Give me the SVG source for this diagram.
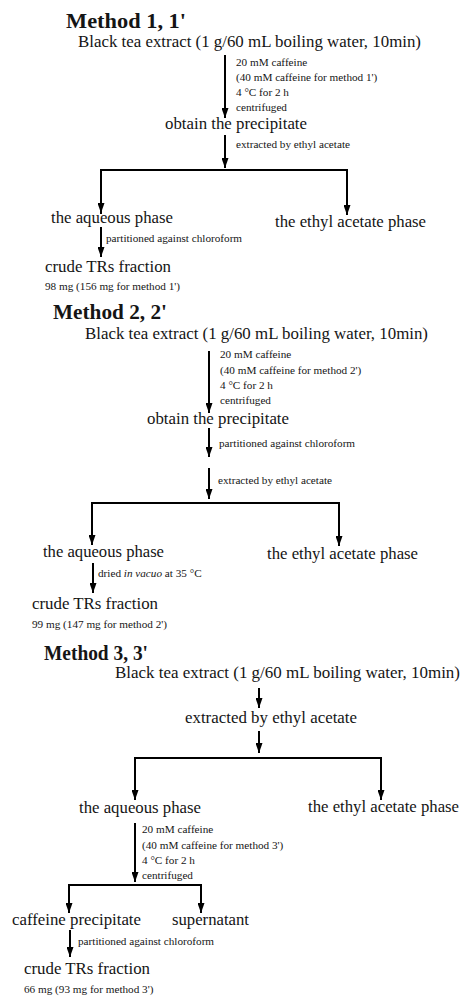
<svg xmlns="http://www.w3.org/2000/svg" width="461" height="996" viewBox="0 0 461 996">
<style>
text{font-family:"Liberation Serif","Times New Roman",serif;fill:#151515}
.t{font-size:21px;font-weight:bold}
.n{font-size:16.8px}
.s{font-size:11.2px}
.c{stroke:#000;stroke-width:2;fill:none}
.a{stroke:#000;stroke-width:2;fill:none;marker-end:url(#ah)}
</style>
<defs>
<marker id="ah" viewBox="0 0 10 7" refX="10" refY="3.5" markerWidth="10" markerHeight="7" markerUnits="userSpaceOnUse" orient="auto">
<path d="M0,0 L10,3.5 L0,7 z" fill="#000"/>
</marker>
</defs>
<rect width="461" height="996" fill="#fff"/>

<g id="connectors">
<!-- method 1 -->
<line class="a" x1="225" y1="55" x2="225" y2="118"/>
<line class="a" x1="225" y1="135" x2="225" y2="168"/>
<path class="c" d="M101,214 V170 H347 V215"/>
<line class="a" x1="101" y1="190" x2="101" y2="213"/>
<line class="a" x1="347" y1="190" x2="347" y2="215"/>
<line class="a" x1="101" y1="227" x2="101" y2="257"/>
<!-- method 2 -->
<line class="a" x1="209" y1="351" x2="209" y2="413"/>
<line class="a" x1="209" y1="428" x2="209" y2="457"/>
<line class="a" x1="209" y1="468" x2="209" y2="499"/>
<path class="c" d="M92,545 V503 H339 V546"/>
<line class="a" x1="92" y1="520" x2="92" y2="545"/>
<line class="a" x1="339" y1="520" x2="339" y2="546"/>
<line class="a" x1="93" y1="563" x2="93" y2="593"/>
<!-- method 3 -->
<line class="a" x1="259" y1="688" x2="259" y2="708"/>
<line class="a" x1="259" y1="731" x2="259" y2="753"/>
<path class="c" d="M135,800 V758 H381 V800"/>
<line class="a" x1="135" y1="775" x2="135" y2="800"/>
<line class="a" x1="381" y1="775" x2="381" y2="800"/>
<line class="a" x1="135" y1="823" x2="135" y2="882"/>
<path class="c" d="M69,913 V885 H201 V913"/>
<line class="a" x1="69" y1="895" x2="69" y2="913"/>
<line class="a" x1="201" y1="895" x2="201" y2="913"/>
<line class="a" x1="70" y1="930" x2="70" y2="957"/>
</g>

<!-- labels on connectors -->
<g id="labels">
<text class="s" x="236" y="66">20 mM caffeine</text>
<text class="s" x="236" y="81">(40 mM caffeine for method 1')</text>
<text class="s" x="236" y="96">4 °C for 2 h</text>
<text class="s" x="236" y="111">centrifuged</text>
<text class="s" x="236" y="148">extracted by ethyl acetate</text>
<text class="s" x="106" y="242">partitioned against chloroform</text>

<text class="s" x="220" y="358">20 mM caffeine</text>
<text class="s" x="220" y="374">(40 mM caffeine for method 2')</text>
<text class="s" x="220" y="389">4 °C for 2 h</text>
<text class="s" x="220" y="404">centrifuged</text>
<text class="s" x="219" y="447">partitioned against chloroform</text>
<text class="s" x="218" y="484">extracted by ethyl acetate</text>
<text class="s" x="98" y="577">dried <tspan font-style="italic">in vacuo</tspan> at 35 °C</text>

<text class="s" x="142" y="833">20 mM caffeine</text>
<text class="s" x="142" y="849">(40 mM caffeine for method 3')</text>
<text class="s" x="142" y="864">4 °C for 2 h</text>
<text class="s" x="142" y="879">centrifuged</text>
<text class="s" x="78" y="945">partitioned against chloroform</text>
</g>

<!-- Method 1 -->
<g id="m1-title"><text class="t" x="66" y="28" textLength="120" lengthAdjust="spacingAndGlyphs">Method 1, 1'</text></g>
<g id="m1-extract"><text class="n" x="78" y="47" textLength="343" lengthAdjust="spacingAndGlyphs">Black tea extract (1 g/60 mL boiling water, 10min)</text></g>
<g id="m1-precipitate"><text class="n" x="165" y="129" textLength="142" lengthAdjust="spacingAndGlyphs">obtain the precipitate</text></g>
<g id="m1-aqueous"><text class="n" x="51" y="223" textLength="122" lengthAdjust="spacingAndGlyphs">the aqueous phase</text></g>
<g id="m1-ethyl"><text class="n" x="275" y="227" textLength="151" lengthAdjust="spacingAndGlyphs">the ethyl acetate phase</text></g>
<g id="m1-crude"><text class="n" x="45" y="272" textLength="126" lengthAdjust="spacingAndGlyphs">crude TRs fraction</text>
<text class="s" x="45" y="290">98 mg (156 mg for method 1')</text></g>

<!-- Method 2 -->
<g id="m2-title"><text class="t" x="53" y="319" textLength="114" lengthAdjust="spacingAndGlyphs">Method 2, 2'</text></g>
<g id="m2-extract"><text class="n" x="85" y="339" textLength="343" lengthAdjust="spacingAndGlyphs">Black tea extract (1 g/60 mL boiling water, 10min)</text></g>
<g id="m2-precipitate"><text class="n" x="147" y="424" textLength="142" lengthAdjust="spacingAndGlyphs">obtain the precipitate</text></g>
<g id="m2-aqueous"><text class="n" x="43" y="557" textLength="121" lengthAdjust="spacingAndGlyphs">the aqueous phase</text></g>
<g id="m2-ethyl"><text class="n" x="267" y="559" textLength="151" lengthAdjust="spacingAndGlyphs">the ethyl acetate phase</text></g>
<g id="m2-crude"><text class="n" x="32" y="609" textLength="126" lengthAdjust="spacingAndGlyphs">crude TRs fraction</text>
<text class="s" x="32" y="628">99 mg (147 mg for method 2')</text></g>

<!-- Method 3 -->
<g id="m3-title"><text class="t" x="44" y="660" textLength="104" lengthAdjust="spacingAndGlyphs">Method 3, 3'</text></g>
<g id="m3-extract"><text class="n" x="115" y="678" textLength="345" lengthAdjust="spacingAndGlyphs">Black tea extract (1 g/60 mL boiling water, 10min)</text></g>
<g id="m3-ethylextract"><text class="n" x="185" y="723" textLength="172" lengthAdjust="spacingAndGlyphs">extracted by ethyl acetate</text></g>
<g id="m3-aqueous"><text class="n" x="79" y="813" textLength="122" lengthAdjust="spacingAndGlyphs">the aqueous phase</text></g>
<g id="m3-ethyl"><text class="n" x="308" y="812" textLength="151" lengthAdjust="spacingAndGlyphs">the ethyl acetate phase</text></g>
<g id="m3-caffeine"><text class="n" x="12" y="925" textLength="129" lengthAdjust="spacingAndGlyphs">caffeine precipitate</text></g>
<g id="m3-supernatant"><text class="n" x="172" y="925" textLength="77" lengthAdjust="spacingAndGlyphs">supernatant</text></g>
<g id="m3-crude"><text class="n" x="24" y="974" textLength="126" lengthAdjust="spacingAndGlyphs">crude TRs fraction</text>
<text class="s" x="24" y="993">66 mg (93 mg for method 3')</text></g>
</svg>
